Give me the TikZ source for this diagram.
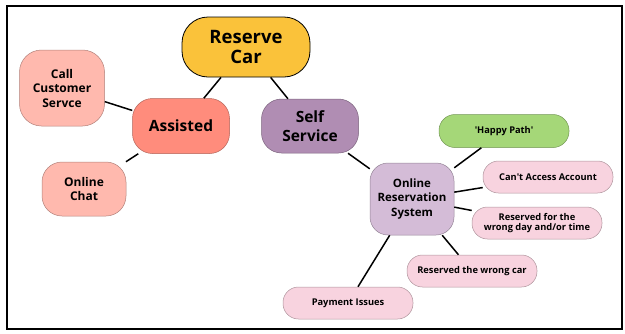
\documentclass[tikz,border=0pt]{standalone}
\usepackage{fontspec}
\setmainfont{Open Sans}[Ligatures=TeXOff]

\definecolor{carYellow}{HTML}{FAC23A}
\definecolor{assistRed}{HTML}{FF8C7C}
\definecolor{assistPink}{HTML}{FFB9AE}
\definecolor{selfPurple}{HTML}{B08DB3}
\definecolor{sysLilac}{HTML}{D4BCD7}
\definecolor{happyGreen}{HTML}{A5D778}
\definecolor{issuePink}{HTML}{F8D3DF}

\begin{document}
\begin{tikzpicture}[x=1pt, y=-1pt,
  bubble/.style={draw=#1!70!black, line width=0.5pt, align=center,
    inner sep=0pt, font=\bfseries},
  issue/.style={bubble=issuePink, fill=issuePink, rounded corners=15.5pt,
    minimum width=130pt, minimum height=32pt,
    font=\bfseries\fontsize{9.3}{10.5}\selectfont},
  link/.style={line width=1.5pt}]
\useasboundingbox (0,0) rectangle (625,333);
\draw[line width=2.5pt] (7,6) rectangle (622,329);

% top level
\node[bubble=black, draw=black, line width=0.8pt, fill=carYellow, rounded corners=26pt,
  minimum width=128pt, minimum height=60pt,
  font=\bfseries\fontsize{18.5}{20.5}\selectfont] (car) at (246,47) {Reserve\\Car};

% assisted branch
\node[bubble=assistRed, fill=assistRed, rounded corners=20pt,
  minimum width=97pt, minimum height=55pt,
  font=\bfseries\fontsize{15.5}{19}\selectfont] (assisted) at (181,126) {Assisted};
\node[bubble=assistPink, fill=assistPink, rounded corners=22pt,
  minimum width=85pt, minimum height=76pt,
  font=\bfseries\fontsize{12}{14.5}\selectfont] (call) at (62,88) {Call\\Customer\\Servce};
\node[bubble=assistPink, fill=assistPink, rounded corners=20pt,
  minimum width=84pt, minimum height=54pt,
  font=\bfseries\fontsize{12}{14.5}\selectfont] (chat) at (84,189) {Online\\Chat};

% self service branch
\node[bubble=selfPurple, fill=selfPurple, rounded corners=20pt,
  minimum width=97pt, minimum height=54pt,
  font=\bfseries\fontsize{15.5}{19}\selectfont] (self) at (310,126) {Self\\Service};
\node[bubble=sysLilac, fill=sysLilac, rounded corners=18pt,
  minimum width=84pt, minimum height=72pt,
  font=\bfseries\fontsize{11.5}{14.5}\selectfont] (online) at (412,199) {Online\\Reservation\\System};

\node[bubble=happyGreen, fill=happyGreen, rounded corners=16pt,
  minimum width=130pt, minimum height=33pt,
  font=\bfseries\fontsize{9.3}{10.5}\selectfont] (happy) at (504,131) {'Happy Path'};
\node[issue] (access) at (548,177) {Can't Access Account};
\node[issue] (wrongday) at (537,223) {Reserved for the\\wrong day and/or time};
\node[issue] (wrongcar) at (472,271) {Reserved the wrong car};
\node[issue] (payment) at (348,303) {Payment Issues};

\draw[link] (car) -- (assisted);
\draw[link] (car) -- (self);
\draw[link] (assisted) -- (call);
\draw[link] (assisted) -- (chat);
\draw[link] (self) -- (online);
\draw[link] (online) -- (happy);
\draw[link] (online) -- (access);
\draw[link] (online) -- (wrongday);
\draw[link] (online) -- (wrongcar);
\draw[link] (online) -- (payment);
\end{tikzpicture}
\end{document}
